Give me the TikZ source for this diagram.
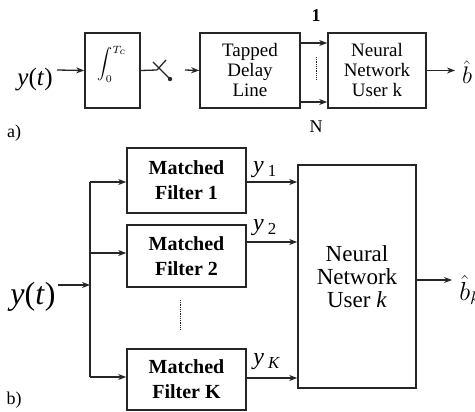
\RequirePackage{fix-cm}
\documentclass[tikz,border=0pt]{standalone}
\usepackage{fontspec}
\setmainfont{Liberation Serif}
\usetikzlibrary{arrows.meta}
\begin{document}
\begin{tikzpicture}[x=1pt,y=-1pt,
  box/.style={draw=black!85,line width=1.6pt,inner sep=0pt,align=center},
  conn/.style={draw=black!85,line width=1.3pt},
  arr/.style={conn,-{Stealth[length=8pt,width=6pt]}},
  lbl/.style={inner sep=0pt}]
\useasboundingbox[fill=white] (0,0) rectangle (475,412);

% ---- a) receiver with tapped delay line
\node[lbl,font=\fontsize{25}{25}\selectfont] (ya) at (35,80) {\textit{y}(\textit{t})};
\node[box,minimum width=55pt,minimum height=75pt] (int) at (112.5,70.5) {};
\node[lbl,font=\fontsize{14}{14}\selectfont] (intsym) at (112,64)
  {\scalebox{1.5}{$\displaystyle\int_{\scriptscriptstyle 0}^{\scriptscriptstyle T_c}$}};
\node[box,minimum width=100pt,minimum height=75pt,
      font=\fontsize{19}{20}\selectfont] (tdl) at (250,70.5) {Tapped\\Delay\\Line};
\node[box,minimum width=98pt,minimum height=75pt,
      font=\fontsize{19}{20}\selectfont] (nna) at (377,70.5) {Neural\\Network\\User k};
\node[lbl,font=\fontsize{24}{24}\selectfont] (bha) at (467,72) {$\hat{b}$};
\node[lbl,font=\bfseries\fontsize{18}{18}\selectfont] (one) at (316,16) {1};
\node[lbl,font=\fontsize{18}{18}\selectfont] (enn) at (316,127) {N};
\node[lbl,font=\fontsize{18}{18}\selectfont] (la) at (14,133) {a)};

\coordinate (sw0) at (157,70);
\coordinate (sw1) at (170,79);
\coordinate (sw2) at (153,62);
\coordinate (sw3) at (166,60);
\coordinate (sw4) at (185,70);

\draw[arr] (57,70) -- (int.west);
\draw[conn] (int.east) -- (sw0);
\draw[conn] (sw2) -- (sw1);
\draw[conn] (sw0) -- (sw3);
\fill[black!85] (sw1) circle (2.2pt);
\draw[arr] (sw4) -- (tdl.west);
\draw[arr] (tdl.east|-0,43) -- (nna.west|-0,43);
\draw[arr] (tdl.east|-0,102) -- (nna.west|-0,102);
\draw[conn,line width=0.8pt,densely dotted] (316,57) -- (316,80);
\draw[arr] (nna.east) -- (455,70.5);

% ---- b) matched filter bank
\node[lbl,font=\fontsize{32}{32}\selectfont] (yb) at (33,297) {\textit{y}(\textit{t})};
\node[box,minimum width=119pt,minimum height=65pt,
      font=\bfseries\fontsize{20}{25}\selectfont] (mf1) at (186.5,180.5) {Matched\\Filter 1};
\node[box,minimum width=119pt,minimum height=62pt,
      font=\bfseries\fontsize{20}{25}\selectfont] (mf2) at (186.5,256) {Matched\\Filter 2};
\node[box,minimum width=119pt,minimum height=61pt,
      font=\bfseries\fontsize{20}{25}\selectfont] (mfk) at (186.5,379.5) {Matched\\Filter K};
\node[box,minimum width=118pt,minimum height=223pt,
      font=\fontsize{23}{23}\selectfont] (nnb) at (357,276.5) {Neural\\Network\\User \textit{k}};
\node[lbl,font=\fontsize{26}{26}\selectfont] (bhb) at (470,290) {$\hat{b}_k$};
\node[lbl,font=\fontsize{24}{24}\selectfont] (y1) at (265,170) {\textit{y}\,\textsubscript{1}};
\node[lbl,font=\fontsize{24}{24}\selectfont] (y2) at (265,228) {\textit{y}\,\textsubscript{2}};
\node[lbl,font=\fontsize{24}{24}\selectfont] (yk) at (267,362) {\textit{y}\,\textsubscript{\textit{K}}};
\node[lbl,font=\fontsize{18}{18}\selectfont] (lb) at (14,400) {b)};

\coordinate (bin) at (90,285);
\coordinate (bus1) at (90,182);
\coordinate (bus2) at (90,253);
\coordinate (busk) at (90,377);

\draw[arr] (58,285) -- (bin);
\draw[conn] (bus1) -- (busk);
\draw[arr] (bus1) -- (mf1.west|-bus1);
\draw[arr] (bus2) -- (mf2.west|-bus2);
\draw[arr] (busk) -- (mfk.west|-busk);
\draw[conn,line width=0.8pt,densely dotted] (180,300) -- (180,330);
\draw[arr] (mf1.east|-0,182) -- (nnb.west|-0,182);
\draw[arr] (mf2.east|-0,242) -- (nnb.west|-0,242);
\draw[arr] (mfk.east|-0,378) -- (nnb.west|-0,378);
\draw[arr] (nnb.east|-0,280) -- (452,280);
\end{tikzpicture}
\end{document}
